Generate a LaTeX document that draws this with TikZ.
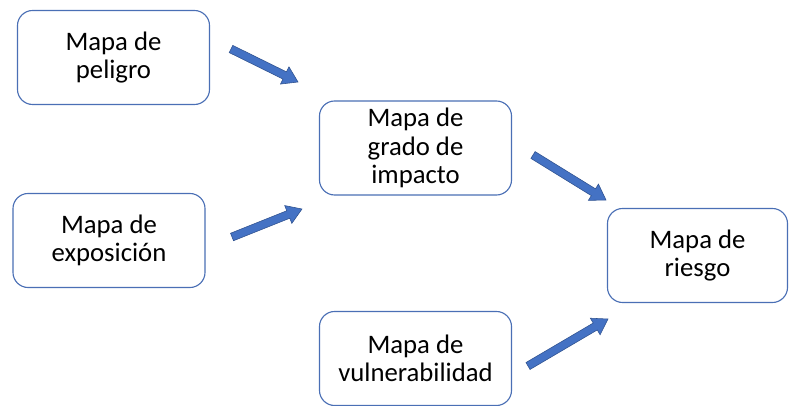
\documentclass[tikz,border=0pt]{standalone}
\usepackage{fontspec}
\setmainfont{Carlito}
\usetikzlibrary{calc}

\definecolor{bordeazul}{HTML}{4A6FB5}
\definecolor{flechaazul}{HTML}{4472C4}
\definecolor{flechaborde}{HTML}{2F528F}

\tikzset{
	mapa/.style={draw=bordeazul, line width=0.8pt, rounded corners=0.38cm, fill=white,
		minimum width=4.8cm, minimum height=2.35cm, align=center,
		font=\fontsize{19}{20}\selectfont, text=black},
	flecha/.style={fill=flechaazul, draw=flechaborde, line width=0.4pt}
}

% block arrow from #1 to #2
\newcommand{\flecha}[2]{
	\draw[flecha] ($(#1)!0.1cm!90:(#2)$) -- ($($(#2)!0.37cm!(#1)$)!0.1cm!90:(#2)$)
		-- ($($(#2)!0.37cm!(#1)$)!0.24cm!90:(#2)$) -- (#2)
		-- ($($(#2)!0.37cm!(#1)$)!0.24cm!-90:(#2)$)
		-- ($($(#2)!0.37cm!(#1)$)!0.1cm!-90:(#2)$)
		-- ($(#1)!0.1cm!-90:(#2)$) -- cycle;
}

\begin{document}
\begin{tikzpicture}[x=0.025cm, y=-0.025cm]
		\useasboundingbox (0,0) rectangle (790,406);
		
		\node[mapa] (peligro) at (113.5,57.5) {Mapa de\\peligro};
		\node[mapa] (exposicion) at (109,240.5) {Mapa de\\exposición};
		\node[mapa] (impacto) at (415.5,148) {Mapa de\\grado de\\impacto};
		\node[mapa] (vulnerabilidad) at (415.5,358.5) {Mapa de\\vulnerabilidad};
		\node[mapa, minimum width=4.5cm] (riesgo) at (697.5,255.5) {Mapa de\\riesgo};
		
		\coordinate (f1a) at (231,49);
		\coordinate (f1b) at (298,82);
		\coordinate (f2a) at (232,237);
		\coordinate (f2b) at (302,209);
		\coordinate (f3a) at (533,155);
		\coordinate (f3b) at (606,200);
		\coordinate (f4a) at (528,366);
		\coordinate (f4b) at (608,319);
		
		\flecha{f1a}{f1b}
		\flecha{f2a}{f2b}
		\flecha{f3a}{f3b}
		\flecha{f4a}{f4b}
		
\end{tikzpicture}
\end{document}
